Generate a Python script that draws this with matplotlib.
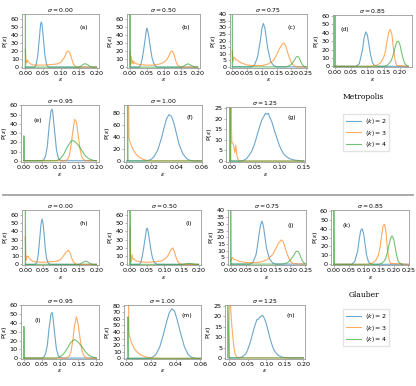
import matplotlib
matplotlib.use('Agg')
import matplotlib.pyplot as plt

# ---- data: eps values (x) and P(eps) (y), per panel, per <k> ----
# (a) Metropolis sigma=0.00
a_x2 = [0.0, 0.025, 0.03, 0.035, 0.04, 0.043, 0.045, 0.047, 0.05, 0.055, 0.06, 0.065, 0.2]
a_y2 = [0, 0, 2, 14, 38, 53, 56, 53, 40, 15, 3, 0, 0]
a_x3 = [0.0, 0.002, 0.004, 0.006, 0.008, 0.01, 0.015, 0.02, 0.03, 0.05, 0.07, 0.09, 0.1, 0.105, 0.11, 0.115, 0.12, 0.125, 0.13, 0.135, 0.14, 0.145, 0.2]
a_y3 = [22, 7, 5, 9, 7, 6, 4, 3, 2.5, 2.5, 3, 4, 6, 9, 12, 18, 20, 18, 11, 4, 1, 0, 0]
a_x4 = [0.0, 0.0005, 0.001, 0.15, 0.155, 0.16, 0.165, 0.17, 0.175, 0.18, 0.185, 0.19, 0.2]
a_y4 = [0, 90, 0, 0, 0.5, 2.5, 4, 4, 3, 1.5, 0.5, 0, 0]
# (b) Metropolis sigma=0.50
b_x2 = [0.0, 0.028, 0.032, 0.036, 0.04, 0.045, 0.048, 0.05, 0.052, 0.055, 0.06, 0.065, 0.07, 0.075, 0.08, 0.2]
b_y2 = [0, 0, 3, 10, 20, 35, 44, 48, 46, 40, 25, 12, 5, 1.5, 0, 0]
b_x3 = [0.0, 0.002, 0.004, 0.006, 0.008, 0.01, 0.012, 0.015, 0.02, 0.03, 0.05, 0.07, 0.09, 0.1, 0.11, 0.115, 0.12, 0.125, 0.13, 0.135, 0.14, 0.145, 0.15, 0.2]
b_y3 = [20, 3, 13, 5, 8, 4, 7, 5, 4, 3, 2.5, 2.5, 4, 6, 10, 14, 19, 20, 16, 8, 3, 1, 0, 0]
b_x4 = [0.0, 0.0005, 0.001, 0.15, 0.16, 0.165, 0.17, 0.175, 0.18, 0.19, 0.2]
b_y4 = [0, 90, 0, 0, 1.5, 3, 4, 3.5, 2, 0.3, 0]
# (c) Metropolis sigma=0.75
c_x2 = [0.0, 0.065, 0.075, 0.085, 0.095, 0.1, 0.105, 0.11, 0.115, 0.12, 0.13, 0.14, 0.15, 0.25]
c_y2 = [0, 0, 1.5, 7, 20, 29, 33, 30, 22, 14, 4, 1, 0, 0]
c_x3 = [0.0, 0.002, 0.005, 0.01, 0.02, 0.03, 0.05, 0.07, 0.1, 0.12, 0.14, 0.15, 0.16, 0.17, 0.175, 0.18, 0.19, 0.2, 0.21, 0.22, 0.25]
c_y3 = [12, 4, 7.5, 6, 4.5, 3, 1.5, 1, 1, 2, 5, 9, 14, 17.5, 18, 16.5, 9, 3, 0.7, 0, 0]
c_x4 = [0.0, 0.0005, 0.001, 0.18, 0.19, 0.2, 0.21, 0.215, 0.22, 0.225, 0.23, 0.235, 0.24, 0.245, 0.25]
c_y4 = [0, 60, 0, 0, 0.5, 2, 5, 7, 8, 7.5, 5, 2.5, 1, 0.2, 0]
# (d) Metropolis sigma=0.85
d_x2 = [0.0, 0.065, 0.075, 0.085, 0.09, 0.095, 0.1, 0.105, 0.11, 0.115, 0.12, 0.13, 0.225]
d_y2 = [0, 0, 3, 20, 34, 41, 37, 25, 13, 5, 1.5, 0, 0]
d_x3 = [0.0, 0.11, 0.12, 0.13, 0.14, 0.15, 0.155, 0.16, 0.165, 0.17, 0.175, 0.18, 0.185, 0.19, 0.225]
d_y3 = [0, 0, 0.5, 1.5, 4, 11, 18, 29, 40, 44, 38, 20, 6, 1, 0]
d_x4 = [0.0, 0.0005, 0.001, 0.15, 0.16, 0.17, 0.175, 0.18, 0.185, 0.19, 0.195, 0.2, 0.205, 0.21, 0.215, 0.22, 0.225]
d_y4 = [0, 70, 0, 0, 1, 5, 9, 15, 23, 29, 30, 25, 16, 8, 3, 1, 0]
# (e) Metropolis sigma=0.95
e_x2 = [0.0, 0.05, 0.055, 0.06, 0.065, 0.07, 0.075, 0.078, 0.08, 0.085, 0.09, 0.095, 0.1, 0.105, 0.2]
e_y2 = [0, 0, 1, 5, 16, 38, 54, 56, 52, 32, 12, 3, 0.5, 0, 0]
e_x3 = [0.0, 0.11, 0.12, 0.125, 0.13, 0.135, 0.14, 0.145, 0.15, 0.155, 0.16, 0.165, 0.17, 0.2]
e_y3 = [0, 0, 1, 5, 16, 32, 45, 42, 27, 12, 4, 1, 0, 0]
e_x4 = [0.0005, 0.0005, 0.0015, 0.09, 0.1, 0.11, 0.12, 0.13, 0.135, 0.14, 0.15, 0.16, 0.17, 0.18, 0.19, 0.2]
e_y4 = [0, 27, 0, 0, 2, 7, 15, 21, 22, 21, 17, 11, 5, 2, 0.5, 0]
# (f) Metropolis sigma=1.00
f_x2 = [0.0, 0.015, 0.018, 0.02, 0.022, 0.025, 0.028, 0.03, 0.032, 0.034, 0.036, 0.038, 0.04, 0.042, 0.045, 0.048, 0.05, 0.053, 0.06]
f_y2 = [0, 0, 1, 3, 7, 18, 38, 55, 70, 77, 74, 62, 45, 28, 12, 4, 1.5, 0, 0]
f_x3 = [0.0015, 0.002, 0.003, 0.005, 0.007, 0.009, 0.011, 0.013, 0.015, 0.017, 0.02, 0.06]
f_y3 = [150, 38, 30, 20, 13, 8, 5, 3, 1.5, 0.7, 0, 0]
f_x4 = [0.0008, 0.0008, 0.0012, 0.06]
f_y4 = [0, 150, 0, 0]
# (g) Metropolis sigma=1.25
g_x2 = [0.0, 0.02, 0.03, 0.035, 0.04, 0.045, 0.05, 0.055, 0.06, 0.065, 0.07, 0.072, 0.075, 0.078, 0.08, 0.085, 0.09, 0.095, 0.1, 0.105, 0.11, 0.12, 0.13, 0.14, 0.15]
g_y2 = [0, 0, 0.5, 1.5, 3, 5, 8, 12, 16, 19.5, 21.5, 22.5, 22, 22.5, 21, 18.5, 14.5, 11, 7.5, 5, 3, 1.2, 0.5, 0.2, 0]
g_x3 = [0.002, 0.002, 0.004, 0.006, 0.008, 0.01, 0.012, 0.014, 0.016, 0.018, 0.02, 0.025, 0.15]
g_y3 = [0, 30, 8.5, 8.5, 7, 4, 7.5, 3, 1, 0.3, 0, 0, 0]
g_x4 = [0.0, 0.0, 0.0008, 0.15]
g_y4 = [0, 30, 0, 0]

# (h) Glauber sigma=0.00
h_x2 = [0.0, 0.028, 0.032, 0.036, 0.04, 0.044, 0.047, 0.05, 0.053, 0.056, 0.06, 0.065, 0.07, 0.2]
h_y2 = [0, 0, 2, 10, 28, 48, 55, 50, 36, 20, 7, 1, 0, 0]
h_x3 = [0.0, 0.002, 0.004, 0.006, 0.008, 0.01, 0.015, 0.02, 0.03, 0.05, 0.07, 0.09, 0.1, 0.105, 0.11, 0.115, 0.12, 0.125, 0.13, 0.135, 0.14, 0.145, 0.2]
h_y3 = [33, 5, 10, 9, 10, 8, 6, 4, 3, 2.5, 3, 4, 6, 9, 12, 15, 17, 15, 8, 3, 1, 0, 0]
h_x4 = [0.0, 0.0005, 0.001, 0.15, 0.155, 0.16, 0.165, 0.17, 0.175, 0.18, 0.185, 0.19, 0.2]
h_y4 = [0, 90, 0, 0, 0.5, 2, 3, 4, 3, 1.5, 0.5, 0, 0]
# (i) Glauber sigma=0.50
i_x2 = [0.0, 0.028, 0.032, 0.036, 0.04, 0.045, 0.048, 0.05, 0.052, 0.055, 0.06, 0.065, 0.07, 0.075, 0.08, 0.2]
i_y2 = [0, 0, 3, 10, 20, 34, 42, 44, 42, 35, 20, 9, 3, 1, 0, 0]
i_x3 = [0.0, 0.002, 0.004, 0.006, 0.008, 0.01, 0.012, 0.015, 0.02, 0.03, 0.05, 0.07, 0.09, 0.1, 0.11, 0.115, 0.12, 0.125, 0.13, 0.135, 0.14, 0.145, 0.15, 0.2]
i_y3 = [45, 2, 5, 12, 7, 6, 7, 5, 4, 3, 2.5, 3, 4, 6, 10, 14, 18, 20, 15, 8, 3, 1, 0, 0]
i_x4 = [0.0, 0.0005, 0.001, 0.15, 0.16, 0.17, 0.18, 0.19, 0.2]
i_y4 = [0, 90, 0, 0, 0.5, 1.2, 0.8, 0.2, 0]
# (j) Glauber sigma=0.75
j_x2 = [0.0, 0.065, 0.075, 0.085, 0.09, 0.095, 0.1, 0.105, 0.11, 0.115, 0.12, 0.13, 0.14, 0.15, 0.25]
j_y2 = [0, 0, 1.5, 7, 14, 22, 29, 32, 28, 20, 12, 4, 1, 0, 0]
j_x3 = [0.0, 0.003, 0.006, 0.01, 0.02, 0.03, 0.05, 0.07, 0.1, 0.12, 0.14, 0.15, 0.16, 0.17, 0.175, 0.18, 0.19, 0.2, 0.21, 0.25]
j_y3 = [2, 4, 5, 3.5, 3, 2, 1.2, 1, 1.5, 3, 7, 11, 15.5, 18, 17, 14, 7, 2, 0.3, 0]
j_x4 = [0.0, 0.0, 0.001, 0.17, 0.18, 0.19, 0.2, 0.21, 0.215, 0.22, 0.225, 0.23, 0.235, 0.24, 0.245, 0.25]
j_y4 = [0, 60, 0, 0, 0.3, 1, 3, 6, 8, 9.5, 9.5, 8, 5, 2.5, 1, 0.3]
# (k) Glauber sigma=0.85
k_x2 = [0.0, 0.06, 0.07, 0.08, 0.085, 0.09, 0.095, 0.1, 0.105, 0.11, 0.115, 0.12, 0.13, 0.25]
k_y2 = [0, 0, 3, 15, 28, 38, 40, 34, 22, 10, 4, 1, 0, 0]
k_x3 = [0.0, 0.11, 0.12, 0.13, 0.14, 0.15, 0.155, 0.16, 0.165, 0.17, 0.175, 0.18, 0.185, 0.19, 0.25]
k_y3 = [0, 0, 0.5, 1.5, 4, 11, 19, 32, 43, 45, 35, 16, 5, 1, 0]
k_x4 = [0.0, 0.0, 0.001, 0.15, 0.16, 0.17, 0.175, 0.18, 0.185, 0.19, 0.195, 0.2, 0.205, 0.21, 0.215, 0.22, 0.225, 0.23]
k_y4 = [0, 70, 0, 0, 1, 4, 8, 14, 22, 29, 32, 29, 20, 11, 4, 1.5, 0.5, 0]
# (l) Glauber sigma=0.95
l_x2 = [0.0, 0.05, 0.055, 0.06, 0.065, 0.07, 0.075, 0.078, 0.08, 0.085, 0.09, 0.095, 0.1, 0.105, 0.2]
l_y2 = [0, 0, 1, 5, 15, 35, 50, 52, 48, 28, 10, 3, 0.5, 0, 0]
l_x3 = [0.0, 0.115, 0.125, 0.13, 0.135, 0.14, 0.145, 0.15, 0.155, 0.16, 0.165, 0.17, 0.175, 0.2]
l_y3 = [0, 0, 2, 7, 20, 38, 47, 38, 22, 9, 3, 0.7, 0, 0]
l_x4 = [0.0005, 0.0005, 0.0015, 0.09, 0.1, 0.11, 0.12, 0.125, 0.13, 0.135, 0.14, 0.145, 0.15, 0.16, 0.17, 0.18, 0.19, 0.2]
l_y4 = [0, 36, 0, 0, 1.5, 5, 11, 15, 18, 20, 21, 20, 18, 13, 7, 3, 1, 0]
# (m) Glauber sigma=1.00
m_x2 = [0.0, 0.018, 0.021, 0.024, 0.027, 0.03, 0.033, 0.035, 0.037, 0.039, 0.041, 0.044, 0.047, 0.05, 0.053, 0.056, 0.06]
m_y2 = [0, 0, 1.5, 6, 17, 36, 58, 70, 75, 72, 60, 38, 18, 6, 1.5, 0, 0]
m_x3 = [0.0015, 0.002, 0.003, 0.005, 0.007, 0.009, 0.011, 0.013, 0.015, 0.017, 0.02, 0.025, 0.06]
m_y3 = [120, 38, 30, 20, 13, 9, 6, 4, 2.5, 1.5, 0.7, 0, 0]
m_x4 = [0.0012, 0.0012, 0.0016, 0.06]
m_y4 = [0, 63, 0, 0]
# (n) Glauber sigma=1.25
n_x2 = [0.0, 0.025, 0.035, 0.045, 0.05, 0.055, 0.06, 0.065, 0.07, 0.075, 0.078, 0.08, 0.085, 0.09, 0.095, 0.1, 0.105, 0.11, 0.115, 0.12, 0.13, 0.14, 0.15, 0.16, 0.2]
n_y2 = [0, 0, 0.5, 2, 4, 6.5, 9.5, 13, 16, 18.5, 18.5, 19, 20, 20.5, 19, 16.5, 13, 9.5, 6.5, 4, 1.5, 0.5, 0.2, 0, 0]
n_x3 = [0.0, 0.0, 0.002, 0.004, 0.007, 0.01, 0.013, 0.016, 0.02, 0.025, 0.2]
n_y3 = [0, 30, 30, 24, 16, 10, 5, 2, 0.5, 0, 0]
n_x4 = [-0.004, -0.004, 0.0, 0.2]
n_y4 = [0, 30, 0, 0]

sigmas = ['0.00', '0.50', '0.75', '0.85', '0.95', '1.00', '1.25']
k_labels = [r'$\langle k\rangle = 2$', r'$\langle k\rangle = 3$', r'$\langle k\rangle = 4$']

panels = [
    # letter, curves, sigma, axes rect (left, bottom, width, height), xlim, ylim, xticks, yticks, label pos
    ('a', (a_x2, a_y2, a_x3, a_y3, a_x4, a_y4), 0, [0.053, 0.824, 0.185, 0.140], (-0.009, 0.207), (-1, 66), [0, 0.05, 0.1, 0.15, 0.2], range(0, 61, 10), (0.8, 0.75)),
    ('b', (b_x2, b_y2, b_x3, b_y3, b_x4, b_y4), 1, [0.305, 0.824, 0.176, 0.140], (-0.009, 0.207), (-1, 66), [0, 0.05, 0.1, 0.15, 0.2], range(0, 61, 10), (0.8, 0.75)),
    ('c', (c_x2, c_y2, c_x3, c_y3, c_x4, c_y4), 2, [0.552, 0.824, 0.186, 0.140], (-0.009, 0.253), (-0.8, 40.3), [0, 0.05, 0.1, 0.15, 0.2, 0.25], range(0, 41, 5), (0.8, 0.75)),
    ('d', (d_x2, d_y2, d_x3, d_y3, d_x4, d_y4), 3, [0.800, 0.826, 0.190, 0.135], (-0.006, 0.236), (-1, 61), [0, 0.05, 0.1, 0.15, 0.2], range(0, 61, 10), (0.15, 0.72)),
    ('e', (e_x2, e_y2, e_x3, e_y3, e_x4, e_y4), 4, [0.050, 0.580, 0.188, 0.148], (-0.008, 0.207), (-1.5, 60.5), [0, 0.05, 0.1, 0.15, 0.2], range(0, 61, 10), (0.22, 0.72)),
    ('f', (f_x2, f_y2, f_x3, f_y3, f_x4, f_y4), 5, [0.298, 0.580, 0.188, 0.148], (-0.002, 0.0605), (-2, 93), [0, 0.02, 0.04, 0.06], range(0, 81, 20), (0.84, 0.78)),
    ('g', (g_x2, g_y2, g_x3, g_y3, g_x4, g_y4), 6, [0.543, 0.580, 0.190, 0.143], (-0.008, 0.152), (-0.5, 25.5), [0, 0.05, 0.1, 0.15], range(0, 26, 5), (0.84, 0.8)),
    ('h', (h_x2, h_y2, h_x3, h_y3, h_x4, h_y4), 0, [0.053, 0.313, 0.185, 0.143], (-0.009, 0.207), (-1, 66), [0, 0.05, 0.1, 0.15, 0.2], range(0, 61, 10), (0.8, 0.75)),
    ('i', (i_x2, i_y2, i_x3, i_y3, i_x4, i_y4), 1, [0.305, 0.313, 0.178, 0.143], (-0.009, 0.207), (-1, 66), [0, 0.05, 0.1, 0.15, 0.2], range(0, 61, 10), (0.83, 0.75)),
    ('j', (j_x2, j_y2, j_x3, j_y3, j_x4, j_y4), 2, [0.548, 0.313, 0.188, 0.143], (-0.009, 0.253), (-0.8, 40.3), [0, 0.05, 0.1, 0.15, 0.2, 0.25], range(0, 41, 5), (0.8, 0.72)),
    ('k', (k_x2, k_y2, k_x3, k_y3, k_x4, k_y4), 3, [0.796, 0.313, 0.188, 0.143], (-0.009, 0.253), (-1, 61), [0, 0.05, 0.1, 0.15, 0.2, 0.25], range(0, 61, 10), (0.2, 0.72)),
    ('l', (l_x2, l_y2, l_x3, l_y3, l_x4, l_y4), 4, [0.050, 0.070, 0.188, 0.140], (-0.008, 0.207), (-1, 60.5), [0, 0.05, 0.1, 0.15, 0.2], range(0, 61, 10), (0.22, 0.72)),
    ('m', (m_x2, m_y2, m_x3, m_y3, m_x4, m_y4), 5, [0.298, 0.070, 0.185, 0.140], (-0.002, 0.0605), (-1, 81), [0, 0.02, 0.04, 0.06], range(0, 81, 10), (0.82, 0.8)),
    ('n', (n_x2, n_y2, n_x3, n_y3, n_x4, n_y4), 6, [0.541, 0.070, 0.192, 0.140], (-0.011, 0.204), (-0.5, 25.5), [0, 0.05, 0.1, 0.15, 0.2], range(0, 26, 5), (0.82, 0.8)),
]

colors = ['#1f77b4', '#ff7f0e', '#2ca02c']
frame = '#9a9a9a'

fig = plt.figure(figsize=(4.16, 3.86), dpi=100)

for letter, curves, si, rect, xl, yl, xt, yt, lpos in panels:
    ax = fig.add_axes(rect)
    for j in range(3):
        ax.plot(curves[2 * j], curves[2 * j + 1], color=colors[j], lw=0.8, alpha=0.65)
    ax.set_xlim(*xl)
    ax.set_ylim(*yl)
    ax.set_xticks(xt)
    ax.set_yticks(list(yt))
    ax.set_xticklabels(['%.2f' % v for v in xt])
    ax.tick_params(labelsize=4.6, length=1.6, width=0.5, pad=0.6, color=frame)
    for s in ax.spines.values():
        s.set_color(frame)
        s.set_linewidth(0.6)
    ax.set_title(r'$\sigma = $' + sigmas[si], fontsize=4.4, pad=1.0)
    ax.set_xlabel(r'$\varepsilon$', fontsize=4.6, labelpad=0.3)
    ax.set_ylabel(r'P($\varepsilon$)', fontsize=4.6, labelpad=0.3)
    ax.text(lpos[0], lpos[1], '(%s)' % letter, transform=ax.transAxes,
            fontsize=4.4, ha='center', va='center')

# legends and dynamics names
handles = [plt.Line2D([], [], color=colors[j], lw=0.8, alpha=0.65) for j in range(3)]
for ytxt, yleg, name in [(0.749, 0.713, 'Metropolis'), (0.236, 0.208, 'Glauber')]:
    fig.text(0.874, ytxt, name, fontsize=5.5, family='DejaVu Serif', ha='center', va='center')
    fig.legend(handles, k_labels, loc='upper left', bbox_to_anchor=(0.818, yleg),
               fontsize=4.5, frameon=True, handlelength=2.4, borderpad=0.4,
               labelspacing=0.2, handletextpad=0.6, edgecolor='#dddddd', fancybox=False)

# separator between the two dynamics
fig.add_artist(plt.Line2D([0.008, 0.993], [0.496, 0.496], color='#aaaaaa', lw=1.4,
                          transform=fig.transFigure))

fig.savefig('out.png', dpi=100)
